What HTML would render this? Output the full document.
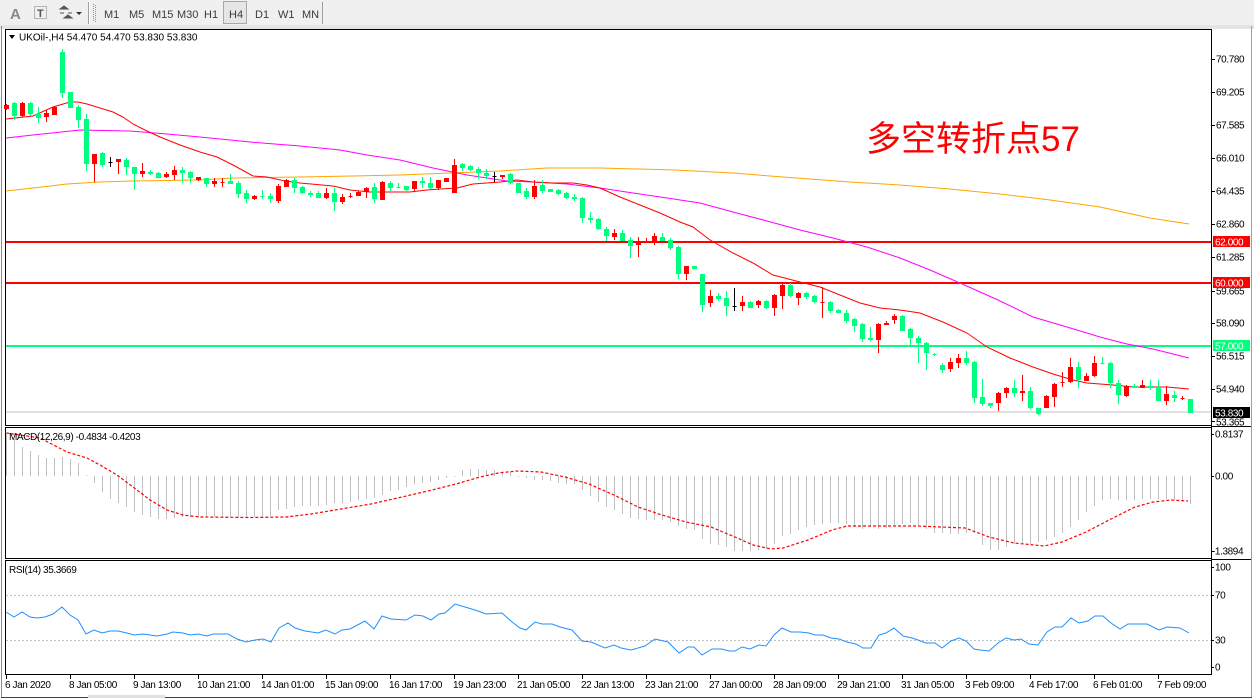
<!DOCTYPE html>
<html><head><meta charset="utf-8"><style>
html,body{margin:0;padding:0;background:#fff;width:1254px;height:698px;overflow:hidden}
svg{display:block}
text{font-family:"Liberation Sans",sans-serif;font-size:10px;fill:#000}
.ax{letter-spacing:-0.4px}
.tb{font-size:11px;fill:#3a3a3a}
</style></head><body>
<svg width="1254" height="698" viewBox="0 0 1254 698" xmlns="http://www.w3.org/2000/svg">
<!-- toolbar -->
<rect x="0" y="0" width="1254" height="26" fill="#f0f0f0"/>
<rect x="0" y="25" width="1254" height="4" fill="#e4e4e4"/>
<text x="10" y="19" style="font-size:15px;font-weight:bold;fill:#8a8a8a">A</text>
<rect x="34.5" y="6.5" width="12" height="12" fill="none" stroke="#777" stroke-dasharray="1 1"/>
<text x="37" y="17" style="font-size:11px;font-weight:bold;fill:#555">T</text>
<path d="M60 9l4-3 4 3zM64 18l4-3 4 3zM60 13h4M68 13h4" fill="#555" stroke="#555"/>
<path d="M76 12h6l-3 3z" fill="#333"/>
<path d="M88.5 2V24" stroke="#a0a0a0"/><path d="M89.5 2V24" stroke="#fff"/>
<path d="M93.5 4V22" stroke="#909090" stroke-dasharray="1 1"/>
<path d="M95.5 5V23" stroke="#909090" stroke-dasharray="1 1"/>
<text class="tb" x="104" y="18">M1</text>
<text class="tb" x="129" y="18">M5</text>
<text class="tb" x="152" y="18">M15</text>
<text class="tb" x="177" y="18">M30</text>
<text class="tb" x="204" y="18">H1</text>
<rect x="223.5" y="1.5" width="23" height="22" fill="#e6e6e6" stroke="#a8a8a8"/>
<text class="tb" x="229" y="18">H4</text>
<text class="tb" x="255" y="18">D1</text>
<text class="tb" x="278" y="18">W1</text>
<text class="tb" x="302" y="18">MN</text>
<path d="M322.5 2V24" stroke="#a0a0a0"/>

<!-- window frame -->
<path d="M1.5 26V697" stroke="#8a8a8a"/>
<path d="M1251.5 26V697" stroke="#a0a0a0"/>
<path d="M1 697.5H1252" stroke="#404040"/>

<!-- panels -->
<g fill="none" stroke="#000" shape-rendering="crispEdges">
<rect x="5.5" y="29.5" width="1206" height="396"/>
<rect x="5.5" y="427.5" width="1206" height="131"/>
<rect x="5.5" y="560.5" width="1206" height="114"/>
<path d="M1211.5 29V675M1211 426.5H1251M1211 559.5H1251"/>
</g>

<!-- horizontal level lines -->
<g shape-rendering="crispEdges">
<rect x="6" y="411.5" width="1205" height="1" fill="#c0c0c0"/>
<rect x="6" y="241" width="1205" height="2" fill="#ff0000"/>
<rect x="6" y="282" width="1205" height="2" fill="#ff0000"/>
<rect x="6" y="345" width="1205" height="2" fill="#00ff7f"/>
</g>

<!-- moving averages -->
<polyline fill="none" stroke="#ffa500" stroke-width="1" points="6,191 33,188 67,184 100,182 133,181 200,180 233,178 300,177 353,176 400,175 450,173 500,171 547,168 600,168 675,170 733,173 783,177 850,182 900,185 950,189 1000,194 1050,200 1100,207 1150,218 1189,224"/>
<polyline fill="none" stroke="#ff00ff" stroke-width="1" points="6,138 33,135 80,130 130,131 167,134 200,137 250,142 300,146 340,150 367,155 400,160 433,168 467,175 487,178 507,181 533,182 567,184 600,188 633,193 667,198 700,203 733,212 767,221 800,230 833,238 867,247 900,258 930,270 960,283 998,300 1033,317 1067,327 1100,337 1127,344 1153,349 1189,358"/>
<polyline fill="none" stroke="#ff0000" stroke-width="1" points="6,119 33,116 53,107 70,102 78,102 87,104 100,108 113,112 123,117 133,124 147,131 160,137 180,145 200,152 217,157 233,165 253,176 267,177 285,181 300,183 333,186 350,190 370,192 410,192 427,190 440,189 457,188 473,184 500,182 517,180 533,182 553,183 573,183 587,185 600,188 620,197 640,205 660,213 680,222 693,227 710,240 733,253 753,263 773,275 800,282 820,287 840,295 860,303 880,308 900,310 920,313 943,322 967,333 987,347 1010,358 1033,367 1053,374 1073,380 1087,383 1113,385 1133,387 1167,387 1189,389"/>

<!-- candles -->
<g shape-rendering="crispEdges" stroke-width="1">
<path fill="#00ff7f" stroke="#00ff7f" d="M14.5 102V120M12.5 103.5h4v12h-4zM30.5 102V116M28.5 103.5h4v10h-4zM38.5 107V123M36.5 114.5h4v3h-4zM62.5 49V98M60.5 52.5h4v40h-4zM70.5 92V108M68.5 92.5h4v15h-4zM78.5 105V128M76.5 107.5h4v12h-4zM86.5 114V171M84.5 119.5h4v44h-4zM102.5 152V167M100.5 153.5h4v11h-4zM126.5 158V175M124.5 160.5h4v6h-4zM134.5 167V190M132.5 167.5h4v6h-4zM150.5 170V175M148.5 172.5h4v1h-4zM158.5 172V178M156.5 173.5h4v4h-4zM182.5 167V183M180.5 170.5h4v2h-4zM190.5 171V183M188.5 172.5h4v5h-4zM206.5 178V187M204.5 178.5h4v5h-4zM230.5 174V184M228.5 181.5h4v2h-4zM238.5 181V198M236.5 183.5h4v10h-4zM246.5 190V203M244.5 193.5h4v5h-4zM262.5 190V199M260.5 196.5h4v0h-4zM270.5 193V203M268.5 196.5h4v2h-4zM294.5 178V193M292.5 180.5h4v7h-4zM302.5 186V194M300.5 187.5h4v5h-4zM310.5 191V197M308.5 193.5h4v1h-4zM318.5 191V198M316.5 193.5h4v4h-4zM334.5 188V211M332.5 193.5h4v8h-4zM374.5 183V203M372.5 187.5h4v11h-4zM390.5 181V192M388.5 183.5h4v4h-4zM398.5 183V188M396.5 187.5h4v0h-4zM406.5 186V192M404.5 186.5h4v3h-4zM422.5 177V188M420.5 181.5h4v1h-4zM430.5 177V189M428.5 183.5h4v4h-4zM462.5 163V171M460.5 164.5h4v3h-4zM470.5 165V171M468.5 166.5h4v3h-4zM478.5 167V179M476.5 169.5h4v3h-4zM486.5 169V179M484.5 173.5h4v2h-4zM510.5 173V184M508.5 174.5h4v8h-4zM518.5 183V193M516.5 183.5h4v9h-4zM526.5 188V199M524.5 191.5h4v5h-4zM542.5 180V193M540.5 185.5h4v5h-4zM550.5 189V192M548.5 189.5h4v2h-4zM558.5 189V195M556.5 190.5h4v3h-4zM566.5 192V199M564.5 193.5h4v4h-4zM574.5 194V201M572.5 197.5h4v1h-4zM582.5 197V223M580.5 198.5h4v19h-4zM590.5 212V223M588.5 218.5h4v1h-4zM598.5 218V230M596.5 219.5h4v9h-4zM606.5 227V241M604.5 229.5h4v6h-4zM622.5 230V241M620.5 233.5h4v7h-4zM630.5 237V258M628.5 240.5h4v5h-4zM662.5 233V241M660.5 237.5h4v3h-4zM670.5 238V250M668.5 240.5h4v7h-4zM678.5 246V279M676.5 247.5h4v26h-4zM694.5 266V269M692.5 266.5h4v2h-4zM702.5 274V312M700.5 274.5h4v30h-4zM718.5 293V301M716.5 296.5h4v2h-4zM726.5 291V316M724.5 298.5h4v7h-4zM750.5 301V308M748.5 302.5h4v5h-4zM766.5 300V309M764.5 301.5h4v6h-4zM790.5 283V297M788.5 285.5h4v10h-4zM806.5 292V299M804.5 293.5h4v3h-4zM814.5 295V303M812.5 296.5h4v5h-4zM830.5 301V313M828.5 302.5h4v8h-4zM838.5 309V313M836.5 310.5h4v2h-4zM846.5 310V323M844.5 313.5h4v7h-4zM854.5 318V332M852.5 319.5h4v6h-4zM862.5 323V342M860.5 324.5h4v14h-4zM870.5 327V341M868.5 338.5h4v1h-4zM902.5 315V331M900.5 316.5h4v14h-4zM910.5 328V345M908.5 329.5h4v8h-4zM918.5 336V363M916.5 338.5h4v4h-4zM926.5 342V370M924.5 343.5h4v9h-4zM934.5 353V356M932.5 354.5h4v0h-4zM942.5 363V373M940.5 365.5h4v4h-4zM966.5 351V365M964.5 358.5h4v4h-4zM974.5 361V403M972.5 362.5h4v35h-4zM982.5 379V406M980.5 397.5h4v6h-4zM990.5 403V408M988.5 403.5h4v2h-4zM1014.5 380V397M1012.5 388.5h4v4h-4zM1030.5 387V409M1028.5 391.5h4v16h-4zM1038.5 408V415M1036.5 408.5h4v5h-4zM1078.5 362V388M1076.5 367.5h4v12h-4zM1102.5 357V364M1100.5 363.5h4v0h-4zM1110.5 362V388M1108.5 363.5h4v19h-4zM1118.5 380V404M1116.5 383.5h4v11h-4zM1134.5 384V388M1132.5 386.5h4v1h-4zM1150.5 380V390M1148.5 386.5h4v1h-4zM1158.5 380V401M1156.5 387.5h4v13h-4zM1174.5 391V402M1172.5 395.5h4v2h-4zM1190.5 399V413M1188.5 399.5h4v13h-4z"/>
<path fill="#ff0000" stroke="#ff0000" d="M6.5 104V110M4.5 105.5h4v3h-4zM22.5 102V117M20.5 103.5h4v12h-4zM46.5 110V122M44.5 113.5h4v3h-4zM54.5 106V115M52.5 107.5h4v7h-4zM94.5 154V182M92.5 154.5h4v9h-4zM118.5 159V174M116.5 159.5h4v2h-4zM142.5 163V177M140.5 171.5h4v2h-4zM166.5 172V178M164.5 174.5h4v2h-4zM174.5 166V180M172.5 170.5h4v4h-4zM198.5 177V181M196.5 177.5h4v2h-4zM214.5 178V187M212.5 181.5h4v2h-4zM222.5 178V187M220.5 182.5h4v0h-4zM254.5 195V200M252.5 196.5h4v2h-4zM278.5 184V203M276.5 186.5h4v14h-4zM286.5 179V187M284.5 180.5h4v6h-4zM326.5 188V199M324.5 193.5h4v4h-4zM342.5 194V204M340.5 197.5h4v4h-4zM350.5 193V198M348.5 196.5h4v0h-4zM358.5 191V196M356.5 192.5h4v3h-4zM366.5 187V198M364.5 188.5h4v3h-4zM382.5 181V200M380.5 182.5h4v17h-4zM414.5 181V191M412.5 181.5h4v7h-4zM438.5 180V190M436.5 180.5h4v7h-4zM446.5 178V182M444.5 178.5h4v3h-4zM454.5 159V193M452.5 165.5h4v27h-4zM502.5 175V179M500.5 175.5h4v1h-4zM534.5 180V199M532.5 186.5h4v10h-4zM614.5 229V240M612.5 233.5h4v3h-4zM638.5 237V257M636.5 242.5h4v2h-4zM646.5 238V243M644.5 242.5h4v0h-4zM654.5 233V245M652.5 236.5h4v5h-4zM686.5 266V280M684.5 266.5h4v7h-4zM710.5 290V307M708.5 296.5h4v6h-4zM742.5 296V311M740.5 302.5h4v3h-4zM758.5 300V308M756.5 301.5h4v3h-4zM774.5 294V316M772.5 295.5h4v12h-4zM782.5 283V309M780.5 285.5h4v10h-4zM798.5 292V305M796.5 293.5h4v4h-4zM822.5 287V318M820.5 302.5h4v0h-4zM878.5 323V353M876.5 324.5h4v15h-4zM886.5 321V325M884.5 323.5h4v1h-4zM894.5 314V324M892.5 316.5h4v3h-4zM950.5 358V372M948.5 362.5h4v6h-4zM958.5 354V368M956.5 358.5h4v4h-4zM998.5 392V411M996.5 393.5h4v9h-4zM1006.5 387V398M1004.5 388.5h4v4h-4zM1022.5 375V401M1020.5 391.5h4v1h-4zM1046.5 395V408M1044.5 396.5h4v11h-4zM1054.5 383V407M1052.5 384.5h4v12h-4zM1062.5 372V387M1060.5 382.5h4v0h-4zM1070.5 358V383M1068.5 367.5h4v14h-4zM1086.5 373V381M1084.5 376.5h4v4h-4zM1094.5 356V377M1092.5 363.5h4v12h-4zM1126.5 385V397M1124.5 386.5h4v9h-4zM1142.5 380V388M1140.5 385.5h4v2h-4zM1166.5 386V405M1164.5 394.5h4v6h-4zM1182.5 396V400M1180.5 398.5h4v0h-4z"/>
<path fill="#000" stroke="#000" d="M110.5 157V167M108.5 162.5h4v0h-4zM494.5 172V182M492.5 176.5h4v0h-4zM734.5 288V311M732.5 306.5h4v0h-4z"/>
</g>

<!-- chinese annotation -->
<text x="866" y="151" style='font-family:"Liberation Sans","Noto Sans CJK SC",sans-serif;font-size:35px;fill:#ff0000'>多空转折点57</text>

<!-- main label -->
<path d="M9 35h6l-3 4z" fill="#000"/>
<text x="19" y="40.5">UKOil-,H4  54.470 54.470 53.830 53.830</text>

<!-- price axis -->
<g stroke="#000" shape-rendering="crispEdges">
<path d="M1211 59.5h4M1211 92.5h4M1211 125.5h4M1211 158.5h4M1211 191.5h4M1211 224.5h4M1211 257.5h4M1211 291.5h4M1211 323.5h4M1211 356.5h4M1211 389.5h4M1211 421.5h4"/>
</g>
<g class="ax">
<text x="1216" y="62.5">70.780</text>
<text x="1216" y="95.5">69.205</text>
<text x="1216" y="128.5">67.585</text>
<text x="1216" y="161.5">66.010</text>
<text x="1216" y="194.5">64.435</text>
<text x="1216" y="227.5">62.860</text>
<text x="1216" y="260.5">61.285</text>
<text x="1216" y="294.5">59.665</text>
<text x="1216" y="326.5">58.090</text>
<text x="1216" y="359.5">56.515</text>
<text x="1216" y="392.5">54.940</text>
<text x="1216" y="425.5">53.365</text>
</g>
<rect x="1213" y="236" width="37" height="11" fill="#ff0000"/>
<text x="1215" y="245.5" class="ax" style="fill:#fff">62.000</text>
<rect x="1213" y="277" width="37" height="11" fill="#ff0000"/>
<text x="1215" y="286.5" class="ax" style="fill:#fff">60.000</text>
<rect x="1213" y="340" width="37" height="11" fill="#00ff7f"/>
<text x="1215" y="349.5" class="ax" style="fill:#fff">57.000</text>
<rect x="1213" y="407" width="37" height="11" fill="#000"/>
<text x="1215" y="416.5" class="ax" style="fill:#fff">53.830</text>

<!-- MACD -->
<path stroke="#c0c0c0" fill="none" shape-rendering="crispEdges" d="M6.5 476V433M14.5 476V439M22.5 476V447M30.5 476V451M38.5 476V455M46.5 476V458M54.5 476V458M62.5 476V457M70.5 476V459M78.5 476V463M86.5 476V475M94.5 476V483M102.5 476V492M110.5 476V499M118.5 476V503M126.5 476V507M134.5 476V512M142.5 476V515M150.5 476V517M158.5 476V519M166.5 476V519M174.5 476V518M182.5 476V517M190.5 476V517M198.5 476V518M206.5 476V517M214.5 476V517M222.5 476V517M230.5 476V517M238.5 476V517M246.5 476V517M254.5 476V517M262.5 476V517M270.5 476V516M278.5 476V510M286.5 476V509M294.5 476V507M302.5 476V506M310.5 476V506M318.5 476V506M326.5 476V505M334.5 476V503M342.5 476V503M350.5 476V502M358.5 476V500M366.5 476V499M374.5 476V498M382.5 476V495M390.5 476V491M398.5 476V490M406.5 476V487M414.5 476V484M422.5 476V483M430.5 476V482M438.5 476V480M446.5 476V478M454.5 476V477M462.5 476V470M470.5 476V469M478.5 476V469M486.5 476V470M494.5 476V470M502.5 476V471M510.5 476V472M518.5 476V477M526.5 476V478M534.5 476V480M542.5 476V480M550.5 476V481M558.5 476V483M566.5 476V484M574.5 476V484M582.5 476V490M590.5 476V496M598.5 476V502M606.5 476V507M614.5 476V510M622.5 476V514M630.5 476V518M638.5 476V519M646.5 476V520M654.5 476V520M662.5 476V520M670.5 476V522M678.5 476V526M686.5 476V529M694.5 476V530M702.5 476V539M710.5 476V544M718.5 476V545M726.5 476V547M734.5 476V551M742.5 476V551M750.5 476V551M758.5 476V550M766.5 476V549M774.5 476V544M782.5 476V536M790.5 476V534M798.5 476V530M806.5 476V527M814.5 476V525M822.5 476V524M830.5 476V523M838.5 476V523M846.5 476V524M854.5 476V527M862.5 476V529M870.5 476V527M878.5 476V529M886.5 476V528M894.5 476V525M902.5 476V524M910.5 476V523M918.5 476V526M926.5 476V529M934.5 476V533M942.5 476V533M950.5 476V534M958.5 476V534M966.5 476V533M974.5 476V533M982.5 476V545M990.5 476V550M998.5 476V550M1006.5 476V547M1014.5 476V544M1022.5 476V544M1030.5 476V544M1038.5 476V542M1046.5 476V540M1054.5 476V537M1062.5 476V533M1070.5 476V527M1078.5 476V520M1086.5 476V512M1094.5 476V506M1102.5 476V500M1110.5 476V499M1118.5 476V500M1126.5 476V500M1134.5 476V500M1142.5 476V499M1150.5 476V499M1158.5 476V499M1166.5 476V499M1174.5 476V500M1182.5 476V500M1190.5 476V504"/>
<polyline fill="none" stroke="#ff0000" stroke-width="1.2" stroke-dasharray="3 2" points="6.5,433 40,438 67,452 87,458 100,465 117,475 133,487 150,500 167,510 183,515 200,517 250,517.5 286,517 311,514 341,509 371,504 402,497 432,490 456,484 480,477 498,473 517,471 541,472 565,477 589,484 614,495 638,507 662,515 686,522 711,527 735,537 753,545 771,549 783,548 808,540 832,530 847,526 862,526 917,526 965,528 989,537 1014,543 1044,546 1062,542 1086,532 1111,519 1135,507 1153,502 1171,500 1188,501"/>
<text x="9" y="440" class="ax">MACD(12,26,9) -0.4834 -0.4203</text>
<g stroke="#000" shape-rendering="crispEdges"><path d="M1211 434.5h3M1211 476.5h3M1211 551.5h3"/></g>
<text x="1215" y="437.5" class="ax">0.8137</text>
<text x="1215" y="479.5" class="ax">0.00</text>
<text x="1212" y="554.5" class="ax">-1.3894</text>

<!-- RSI -->
<g stroke="#c0c0c0" stroke-dasharray="2 2" shape-rendering="crispEdges">
<path d="M6 595.5H1211M6 640.5H1211"/>
</g>
<polyline fill="none" stroke="#1e90ff" stroke-width="1" points="6,612 14,617 22,612 30,617 37,618 45,617 53,614 62,607 70,615 78,620 86,634 94,630 102,633 110,631 118,631 127,633 134,635 143,634 157,636 167,634 173,632 183,633 190,635 198,634 207,636 213,634 228,634 237,639 246,642 255,640 263,639 271,642 279,628 288,623 295,628 305,631 318,633 326,630 335,634 342,630 350,629 365,621 374,629 382,616 391,619 406,620 415,615 423,616 431,620 439,614 445,613 455,604 465,607 475,610 486,614 502,613 512,622 520,628 526,630 535,622 542,624 552,624 560,627 572,630 582,641 591,642 605,648 614,645 621,648 631,650 645,646 655,639 668,642 679,653 688,647 694,647 702,655 712,649 722,649 729,651 735,651 742,647 750,649 759,645 766,646 774,635 782,628 791,632 800,632 809,633 815,635 823,635 831,638 839,639 847,642 856,644 863,648 871,648 879,635 886,633 894,628 903,636 912,638 918,640 926,643 935,643 942,648 951,641 959,638 966,641 974,649 980,650 989,651 998,643 1006,638 1014,640 1021,639 1029,644 1038,645 1047,632 1055,627 1062,627 1071,618 1079,623 1088,621 1095,616 1103,616 1111,623 1120,629 1128,624 1147,624 1159,630 1167,627 1180,628 1189,633"/>
<text x="9" y="573" class="ax">RSI(14) 35.3669</text>
<g stroke="#000" shape-rendering="crispEdges"><path d="M1211 567.5h3M1211 595.5h3M1211 640.5h3M1211 667.5h3"/></g>
<text x="1215" y="570.5" class="ax">100</text>
<text x="1215" y="598.5" class="ax">70</text>
<text x="1215" y="643.5" class="ax">30</text>
<text x="1215" y="670.5" class="ax">0</text>

<!-- time axis -->
<path stroke="#000" shape-rendering="crispEdges" d="M6.5 675v4M70.5 675v4M134.5 675v4M198.5 675v4M262.5 675v4M326.5 675v4M390.5 675v4M454.5 675v4M518.5 675v4M582.5 675v4M646.5 675v4M710.5 675v4M774.5 675v4M838.5 675v4M902.5 675v4M966.5 675v4M1030.5 675v4M1094.5 675v4M1158.5 675v4"/>
<g class="ax">
<text x="5" y="688">6 Jan 2020</text>
<text x="69" y="688">8 Jan 05:00</text>
<text x="133" y="688">9 Jan 13:00</text>
<text x="197" y="688">10 Jan 21:00</text>
<text x="261" y="688">14 Jan 01:00</text>
<text x="325" y="688">15 Jan 09:00</text>
<text x="389" y="688">16 Jan 17:00</text>
<text x="453" y="688">19 Jan 23:00</text>
<text x="517" y="688">21 Jan 05:00</text>
<text x="581" y="688">22 Jan 13:00</text>
<text x="645" y="688">23 Jan 21:00</text>
<text x="709" y="688">27 Jan 00:00</text>
<text x="773" y="688">28 Jan 09:00</text>
<text x="837" y="688">29 Jan 21:00</text>
<text x="901" y="688">31 Jan 05:00</text>
<text x="965" y="688">3 Feb 09:00</text>
<text x="1029" y="688">4 Feb 17:00</text>
<text x="1093" y="688">6 Feb 01:00</text>
<text x="1157" y="688">7 Feb 09:00</text>
</g>
<rect x="88" y="695" width="77" height="3" fill="#e0e0e0"/>
</svg>
</body></html>
